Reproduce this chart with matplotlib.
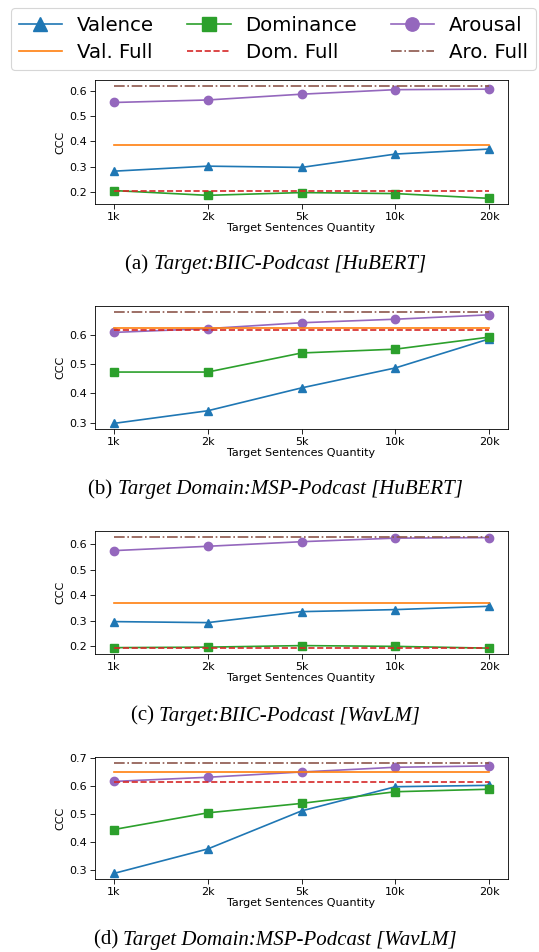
#!/usr/bin/env python3
# CCC vs. target sentence quantity, four panels with a shared legend on top

import matplotlib
matplotlib.use("Agg")
import matplotlib.pyplot as plt

# data
quantities = ["1k", "2k", "5k", "10k", "20k"]
captions = [
    ("(a) ", "Target:BIIC-Podcast [HuBERT]"),
    ("(b) ", "Target Domain:MSP-Podcast [HuBERT]"),
    ("(c) ", "Target:BIIC-Podcast [WavLM]"),
    ("(d) ", "Target Domain:MSP-Podcast [WavLM]"),
]
valence = [
    [0.282, 0.302, 0.297, 0.350, 0.370],
    [0.298, 0.341, 0.419, 0.487, 0.586],
    [0.297, 0.293, 0.336, 0.344, 0.357],
    [0.286, 0.374, 0.511, 0.598, 0.603],
]
dominance = [
    [0.205, 0.186, 0.197, 0.193, 0.174],
    [0.473, 0.473, 0.538, 0.551, 0.592],
    [0.195, 0.197, 0.203, 0.200, 0.193],
    [0.444, 0.504, 0.538, 0.580, 0.589],
]
arousal = [
    [0.555, 0.565, 0.588, 0.606, 0.608],
    [0.608, 0.621, 0.641, 0.653, 0.668],
    [0.575, 0.592, 0.610, 0.624, 0.626],
    [0.617, 0.632, 0.651, 0.668, 0.673],
]
val_full = [0.388, 0.624, 0.370, 0.652]
dom_full = [0.203, 0.617, 0.192, 0.614]
aro_full = [0.622, 0.679, 0.630, 0.685]

W, H = 539, 952
fig = plt.figure(figsize=(W / 100, H / 100), dpi=100, facecolor="white")

# axes boxes in pixels: (top, bottom); captions y in pixels
ax_left, ax_right = 95, 508
boxes = [(80, 204), (306, 429), (531, 654), (757, 879)]
cap_y = [265, 490, 716, 940]

x = list(range(len(quantities)))
handles = None
for i, (top, bottom) in enumerate(boxes):
    ax = fig.add_axes([ax_left / W, 1 - bottom / H, (ax_right - ax_left) / W, (bottom - top) / H])
    lv, = ax.plot(x, valence[i], color="#1f77b4", marker="^", markersize=6, linewidth=1.2, label="Valence")
    ld, = ax.plot(x, dominance[i], color="#2ca02c", marker="s", markersize=6, linewidth=1.2, label="Dominance")
    la, = ax.plot(x, arousal[i], color="#9467bd", marker="o", markersize=6, linewidth=1.2, label="Arousal")
    lvf, = ax.plot([x[0], x[-1]], [val_full[i]] * 2, color="#ff7f0e", linewidth=1.2, label="Val. Full")
    ldf, = ax.plot([x[0], x[-1]], [dom_full[i]] * 2, color="#d62728", linestyle="--", linewidth=1.2, label="Dom. Full")
    laf, = ax.plot([x[0], x[-1]], [aro_full[i]] * 2, color="#8c564b", linestyle="-.", linewidth=1.2, label="Aro. Full")
    ax.set_xticks(x)
    ax.set_xticklabels(quantities)
    ax.tick_params(labelsize=8, length=3.5, width=0.6, pad=2)
    for s in ax.spines.values():
        s.set_linewidth(0.6)
    ax.set_ylabel("CCC", fontsize=8, labelpad=3)
    ax.set_xlabel("Target Sentences Quantity", fontsize=8, labelpad=1)
    if handles is None:
        handles = [lv, ld, la, lvf, ldf, laf]

    # caption: upright prefix + italic title, centred as a whole
    prefix, title = captions[i]
    t1 = fig.text(0, 1 - cap_y[i] / H, prefix, family="Liberation Serif", fontsize=15, va="center")
    t2 = fig.text(0, 1 - cap_y[i] / H, title, family="Liberation Serif", style="italic", fontsize=15, va="center")
    fig.canvas.draw()
    r = fig.canvas.get_renderer()
    w1 = t1.get_window_extent(r).width
    w2 = t2.get_window_extent(r).width
    x0 = (W - w1 - w2) / 2 + 6
    t1.set_x(x0 / W)
    t2.set_x((x0 + w1) / W)

# shared legend at top, order row-wise: markers on first row, full lines on second
order = [handles[0], handles[3], handles[1], handles[4], handles[2], handles[5]]
leg = fig.legend(handles=order, labels=[h.get_label() for h in order], ncol=3,
                 loc="upper center", bbox_to_anchor=(0.507, 1 - 8 / H), borderaxespad=0,
                 fontsize=14.2, markerscale=1.6, handlelength=2.2, columnspacing=1.7,
                 handletextpad=0.75, labelspacing=0.4, borderpad=0.4, frameon=True)
leg.get_frame().set_linewidth(0.8)

fig.savefig("out.png", dpi=100)
